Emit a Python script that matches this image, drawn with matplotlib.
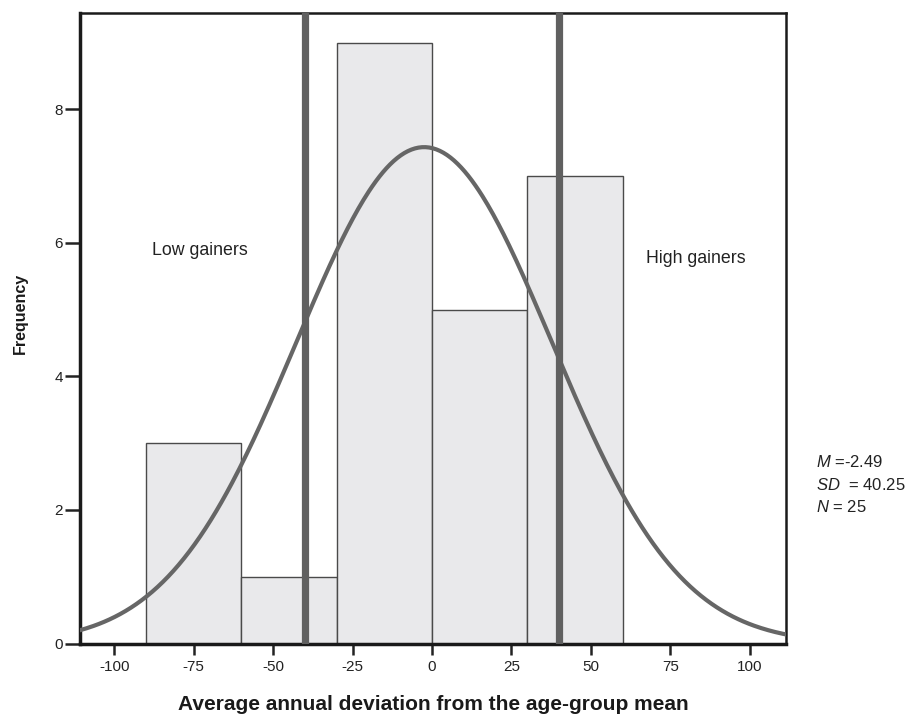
import numpy as np
import matplotlib
matplotlib.use("Agg")
import matplotlib.pyplot as plt

plt.rcParams["font.family"] = ["Liberation Sans", "DejaVu Sans"]
plt.rcParams["axes.unicode_minus"] = False
plt.rcParams["mathtext.fontset"] = "custom"
plt.rcParams["mathtext.it"] = "Liberation Sans:italic"
plt.rcParams["mathtext.rm"] = "Liberation Sans"

# ── Data ──────────────────────────────────────────────────────────────────────
BIN_EDGES = [-90, -60, -30, 0, 30, 60]
COUNTS = [3, 1, 9, 5, 7]
MEAN, SD, N = -2.49, 40.25, 25
CUTOFFS = [-40, 40]
X_TICKS = [-100, -75, -50, -25, 0, 25, 50, 75, 100]
Y_TICKS = [0, 2, 4, 6, 8]

# ── Figure ────────────────────────────────────────────────────────────────────
fig = plt.figure(figsize=(9.15, 7.14), dpi=100)
ax = fig.add_axes([80 / 915, 1 - 643.5 / 714, 706 / 915, 631 / 714])

lefts = BIN_EDGES[:-1]
widths = np.diff(BIN_EDGES)
ax.bar(lefts, COUNTS, widths, align="edge", color="#e9e9eb",
       edgecolor="#4a4a4a", linewidth=1.0, zorder=1)

# fitted normal curve scaled to counts
bw = widths[0]
xs = np.linspace(-111, 112, 400)
ys = N * bw / (SD * np.sqrt(2 * np.pi)) * np.exp(-0.5 * ((xs - MEAN) / SD) ** 2)
ax.plot(xs, ys, color="#666666", linewidth=3.0, zorder=3, solid_capstyle="round")

for c in CUTOFFS:
    ax.axvline(c, color="#606060", linewidth=5.2, zorder=4)

ax.text(-73, 5.89, "Low gainers", ha="center", va="center", fontsize=12.8,
        color="#222222")
ax.text(83, 5.76, "High gainers", ha="center", va="center", fontsize=12.8,
        color="#222222")

ax.set_xlim(-110.8, 111.4)
ax.set_ylim(0, 9.45)
ax.set_xticks(X_TICKS)
ax.set_yticks(Y_TICKS)
ax.tick_params(axis="both", direction="out", width=1.8,
               labelsize=11, color="#222222", labelcolor="#222222")
ax.tick_params(axis="x", length=8, pad=4)
ax.tick_params(axis="y", length=10.5, pad=2)

for side in ["left", "bottom"]:
    ax.spines[side].set_linewidth(2.5)
    ax.spines[side].set_color("#1a1a1a")
for side in ["top", "right"]:
    ax.spines[side].set_linewidth(1.8)
    ax.spines[side].set_color("#1a1a1a")

ax.set_xlabel("Average annual deviation from the age-group mean",
              fontsize=15, fontweight="bold", color="#1a1a1a")
ax.xaxis.set_label_coords(0.5, -(710 - 643.5) / 631)
ax.xaxis.label.set_va("baseline")

ax.set_ylabel("Frequency", fontsize=11.5, fontweight="bold", color="#1a1a1a")
ax.yaxis.set_label_coords((20 - 80) / 706, (643.5 - 313) / 631)
ax.yaxis.label.set_va("center")

fig.text(816 / 915, 1 - 462 / 714, r"$\it{M}$ =-2.49", fontsize=12, va="center",
         color="#222222")
fig.text(816 / 915, 1 - 485 / 714, r"$\it{SD}$  = 40.25", fontsize=12, va="center",
         color="#222222")
fig.text(816 / 915, 1 - 507 / 714, r"$\it{N}$ = 25", fontsize=12, va="center",
         color="#222222")

fig.savefig("out.png", dpi=100)
